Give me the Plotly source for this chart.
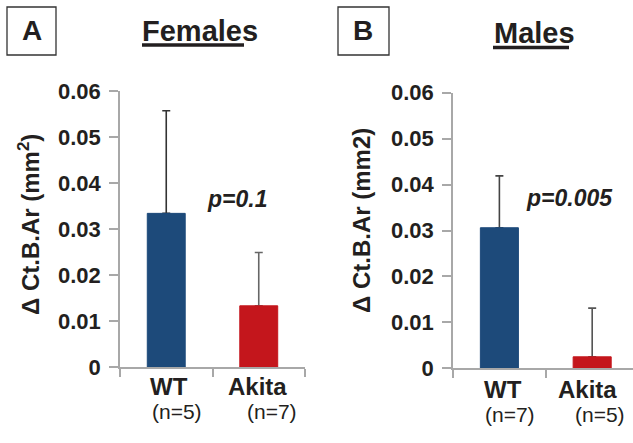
import plotly.graph_objects as go

categories = ["WT", "Akita"]
female_means = [0.0334, 0.0133]
female_sd = [0.0223, 0.0116]
male_means = [0.0306, 0.0025]
male_sd = [0.0113, 0.0106]
female_n = ["(n=5)", "(n=7)"]
male_n = ["(n=7)", "(n=5)"]
yticks = [0, 0.01, 0.02, 0.03, 0.04, 0.05, 0.06]
ytick_text = ["0", "0.01", "0.02", "0.03", "0.04", "0.05", "0.06"]

W, H = 633, 443
BLUE = "#1d4a7a"
RED = "#c4161c"
TXT = "#231f20"
AX = "#a8a8a8"
FONT = "Liberation Sans, Arial, Helvetica, sans-serif"

def px(x):
    return x / W

def py(y):
    return 1 - y / H

fig = go.Figure()
xs = [0, 1]
colors = [BLUE, RED]

def add_bar(xa, ya, means, sds, ecolors):
    for i in range(len(categories)):
        # error bar first (transparent bar), then the visible bar covering the lower cap
        fig.add_trace(go.Bar(
            x=[xs[i]], y=[means[i]], width=0.41, opacity=1,
            marker=dict(color="rgba(0,0,0,0)", line=dict(width=0)),
            error_y=dict(type="data", symmetric=False, array=[sds[i]], arrayminus=[0],
                         color=ecolors[i], thickness=1.6, width=4),
            xaxis=xa, yaxis=ya, showlegend=False, hoverinfo="skip"))
        fig.add_trace(go.Bar(
            x=[xs[i]], y=[means[i]], width=0.41,
            marker=dict(color=colors[i], line=dict(width=1, color=colors[i])),
            xaxis=xa, yaxis=ya, showlegend=False, hoverinfo="skip"))

add_bar("x", "y", female_means, female_sd, ["#333333", "#666666"])
add_bar("x2", "y2", male_means, male_sd, ["#444444", "#555555"])

yax = dict(range=[0, 0.06], tickvals=yticks, ticktext=ytick_text, showgrid=False,
           zeroline=False, showline=True, linecolor=AX, linewidth=1.5, automargin=False,
           ticks="outside", ticklen=9, tickcolor=AX, tickwidth=1.5,
           tickfont=dict(family=FONT, size=22, color=TXT, weight="bold"),
           ticklabelstandoff=4)
xax = dict(range=[-0.5, 1.5], tickvals=[-0.5, 0.5, 1.5], showticklabels=False, automargin=False,
           showgrid=False, zeroline=False, showline=True, linecolor=AX, linewidth=1.5,
           ticks="outside", ticklen=8, tickcolor=AX, tickwidth=1.5)

fig.update_layout(
    template="none",
    width=W, height=H, margin=dict(l=0, r=0, t=0, b=0, autoexpand=False),
    paper_bgcolor="white", plot_bgcolor="white", barmode="overlay",
    xaxis=dict(xax, domain=[px(120), px(305)], anchor="y"),
    yaxis=dict(yax, domain=[py(367), py(91)], anchor="x"),
    xaxis2=dict(xax, domain=[px(453), 1], range=[-0.5, 1.44], anchor="y2"),
    yaxis2=dict(yax, domain=[py(368.3), py(92.7)], anchor="x2"),
)

ann = []
def text(x, y, s, size, bold=True, italic=False, angle=0):
    ann.append(dict(x=px(x), y=py(y), xref="paper", yref="paper", text=s, showarrow=False,
                    textangle=angle, xanchor="center", yanchor="middle",
                    font=dict(family=FONT, size=size, color=TXT,
                              weight="bold" if bold else "normal",
                              style="italic" if italic else "normal")))

text(200.5, 31, "Females", 29)
text(534, 33, "Males", 29)
text(31.5, 31, "A", 28)
text(363.5, 31, "B", 28)
text(29, 225, "Δ Ct.B.Ar (mm<sup>2</sup>)", 24, angle=-90)
text(361, 221, "Δ Ct.B.Ar (mm2)", 24, angle=-90)
text(237, 199, "p=0.1", 23, italic=True)
text(569.5, 198, "p=0.005", 23, italic=True)

# category labels
for i, c in enumerate(categories):
    ann.append(dict(x=xs[i], y=py(402), xref="x", yref="paper", text=c, showarrow=False,
                    xshift=[3, -1][i], font=dict(family=FONT, size=24, color=TXT, weight="bold")))
    ann.append(dict(x=xs[i], y=py(425), xref="x", yref="paper", text=female_n[i], showarrow=False,
                    xshift=[11, 13][i], font=dict(family=FONT, size=21, color=TXT)))
    ann.append(dict(x=xs[i], y=py(405), xref="x2", yref="paper", text=c, showarrow=False,
                    xshift=[4, -5][i], font=dict(family=FONT, size=24, color=TXT, weight="bold")))
    ann.append(dict(x=xs[i], y=py(428), xref="x2", yref="paper", text=male_n[i], showarrow=False,
                    xshift=[11, 8][i], font=dict(family=FONT, size=21, color=TXT)))
fig.update_layout(annotations=ann)

shapes = [
    dict(type="rect", xref="paper", yref="paper", x0=px(7), x1=px(56), y0=py(55), y1=py(7),
         line=dict(color="#333333", width=1.3)),
    dict(type="rect", xref="paper", yref="paper", x0=px(338), x1=px(389), y0=py(55), y1=py(7),
         line=dict(color="#333333", width=1.3)),
    dict(type="line", xref="paper", yref="paper", x0=px(142), x1=px(244), y0=py(45), y1=py(45),
         line=dict(color=TXT, width=3.5)),
    dict(type="line", xref="paper", yref="paper", x0=px(493), x1=px(569), y0=py(47.5), y1=py(47.5),
         line=dict(color=TXT, width=3.5)),
]
fig.update_layout(shapes=shapes)

fig.write_html("out.html", config={"displayModeBar": False},
               post_script="document.body.style.margin='0px';document.body.style.overflow='hidden';")
